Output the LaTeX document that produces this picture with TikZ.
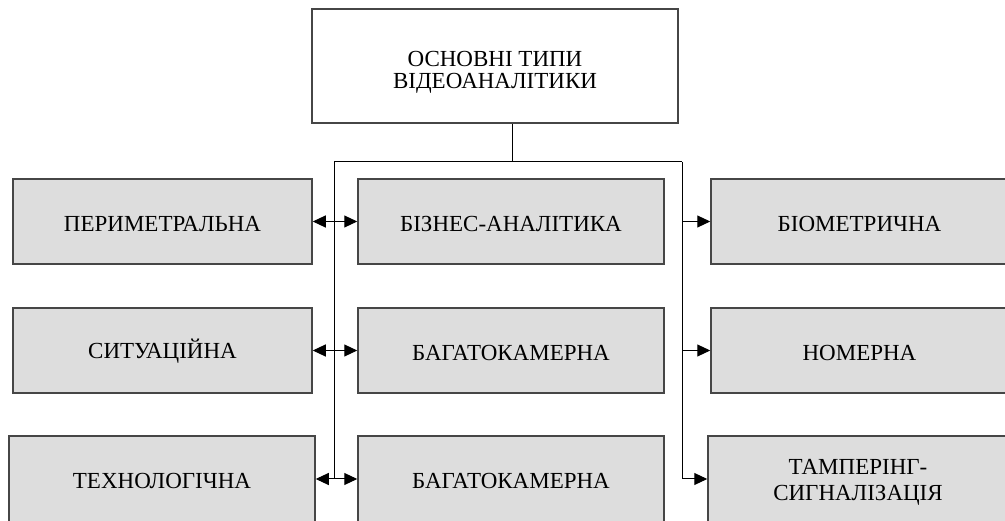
\documentclass[tikz,border=0pt]{standalone}
\usepackage{fontspec}
\setmainfont{Liberation Serif}
\usetikzlibrary{arrows.meta}
\definecolor{boxfill}{RGB}{221,221,221}
\definecolor{boxline}{RGB}{70,70,70}
\tikzset{
  topbox/.style={draw=boxline, line width=1.3pt, fill=white, align=center,
    font=\fontsize{23}{22}\selectfont, inner sep=0pt},
  catbox/.style={draw=boxline, line width=1.5pt, fill=boxfill, align=center,
    font=\fontsize{23}{26}\selectfont, inner sep=0pt},
  link/.style={line width=1pt, draw=black},
  tip/.style={-{Triangle[length=13pt,width=12pt]}},
  dtip/.style={{Triangle[length=13pt,width=12pt]}-{Triangle[length=13pt,width=12pt]}}
}
\begin{document}
\begin{tikzpicture}[x=1pt,y=-1pt]
\useasboundingbox (0,0) rectangle (1005,521);
% top
\node[topbox, minimum width=366pt, minimum height=114pt] (top) at (495,66) {\rule{0pt}{27pt}ОСНОВНІ ТИПИ\\ВІДЕОАНАЛІТИКИ};
% row 1
\node[catbox, minimum width=299pt, minimum height=85pt] (per) at (162.5,221.5) {\rule{0pt}{20pt}ПЕРИМЕТРАЛЬНА};
\node[catbox, minimum width=306pt, minimum height=85pt] (biz) at (511,221.5) {\rule{0pt}{20pt}БІЗНЕС-АНАЛІТИКА};
\node[catbox, minimum width=297pt, minimum height=85pt] (bio) at (859.5,221.5) {\rule{0pt}{20pt}БІОМЕТРИЧНА};
% row 2
\node[catbox, minimum width=299pt, minimum height=85pt] (sit) at (162.5,350.5) {\rule{0pt}{20pt}СИТУАЦІЙНА};
\node[catbox, minimum width=306pt, minimum height=85pt] (bag) at (511,350.5) {\rule{0pt}{20pt}БАГАТОКАМЕРНА};
\node[catbox, minimum width=297pt, minimum height=85pt] (nom) at (859.5,350.5) {\rule{0pt}{20pt}НОМЕРНА};
% row 3
\node[catbox, minimum width=306pt, minimum height=86pt] (tex) at (162,479) {\rule{0pt}{20pt}ТЕХНОЛОГІЧНА};
\node[catbox, minimum width=306pt, minimum height=86pt] (bag2) at (511,479) {\rule{0pt}{20pt}БАГАТОКАМЕРНА};
\node[catbox, minimum width=300pt, minimum height=86pt] (tam) at (858,479) {\rule{0pt}{21pt}ТАМПЕРІНГ-\\СИГНАЛІЗАЦІЯ};
% trunk
\coordinate (j) at (512,162);
\coordinate (lt) at (334,162);
\coordinate (rt) at (682,162);
\draw[link] (top.south -| j) -- (j);
\draw[link] (lt) -- (rt);
\draw[link] (lt) -- (lt |- tex.east);
\draw[link] (rt) -- (rt |- tam.west);
% left double arrows
\draw[link, dtip] (per.east) -- (biz.west);
\draw[link, dtip] (sit.east) -- (bag.west);
\draw[link, dtip] (tex.east) -- (bag2.west);
% right arrows
\draw[link, tip] (rt |- bio.west) -- (bio.west);
\draw[link, tip] (rt |- nom.west) -- (nom.west);
\draw[link, tip] (rt |- tam.west) -- (tam.west);
\end{tikzpicture}
\end{document}
